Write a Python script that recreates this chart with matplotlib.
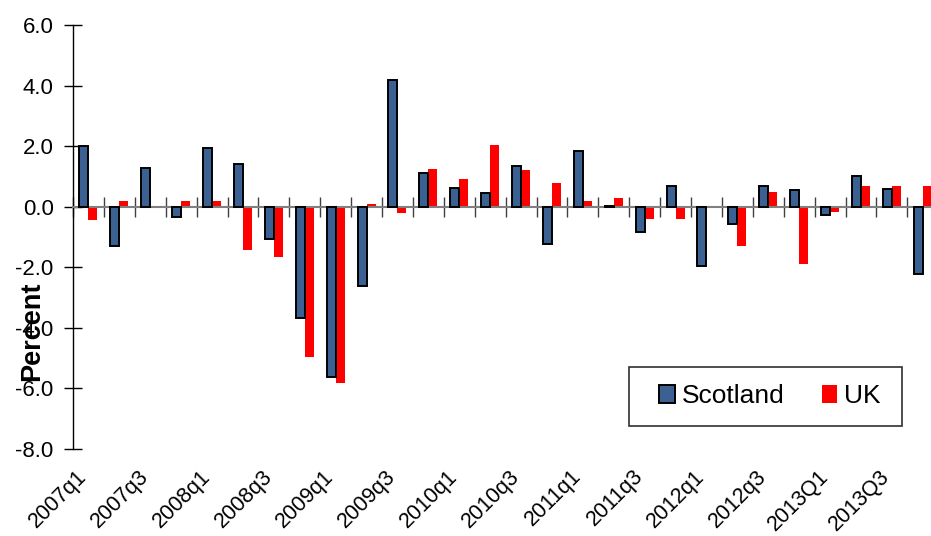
import matplotlib
matplotlib.use("Agg")
import matplotlib.pyplot as plt
import numpy as np
from matplotlib.transforms import blended_transform_factory
from matplotlib.patches import Rectangle

plt.rcParams['font.family'] = ['Liberation Sans', 'DejaVu Sans']

quarters = ["2007q1", "2007q2", "2007q3", "2007q4",
            "2008q1", "2008q2", "2008q3", "2008q4",
            "2009q1", "2009q2", "2009q3", "2009q4",
            "2010q1", "2010q2", "2010q3", "2010q4",
            "2011q1", "2011q2", "2011q3", "2011q4",
            "2012q1", "2012q2", "2012q3", "2012q4",
            "2013Q1", "2013Q2", "2013Q3", "2013Q4"]
scotland = [2.02, -1.29, 1.29, -0.33, 1.93, 1.41, -1.07, -3.69,
            -5.61, -2.61, 4.20, 1.12, 0.61, 0.46, 1.34, -1.23,
            1.85, 0.03, -0.85, 0.69, -1.95, -0.57, 0.69, 0.55,
            -0.28, 1.01, 0.57, -2.21]
uk = [-0.44, 0.18, 0.00, 0.18, 0.18, -1.43, -1.65, -4.95,
      -5.81, 0.10, -0.20, 1.24, 0.91, 2.04, 1.20, 0.78,
      0.19, 0.29, -0.40, -0.40, -0.05, -1.29, 0.50, -1.89,
      -0.19, 0.70, 0.69, 0.69]
yticks = [-8.0, -6.0, -4.0, -2.0, 0.0, 2.0, 4.0, 6.0]

W, H = 931, 536
fig = plt.figure(figsize=(W / 100, H / 100), dpi=100)
x0, x1 = 73, 938.2
y_top, y_bot = 25, 449
ax = fig.add_axes([x0 / W, 1 - y_bot / H, (x1 - x0) / W, (y_bot - y_top) / H])

n = len(quarters)
x = np.arange(n)
bw = 0.29
ax.bar(x - bw / 2, scotland, bw, color='#3A6192', edgecolor='black',
       linewidth=1.4, label='Scotland', zorder=3)
ax.bar(x + bw / 2, uk, bw, color='#FF0000', linewidth=0, label='UK', zorder=2)

ax.set_xlim(-0.5, n - 0.5)
ax.set_ylim(-8, 6)
ax.set_yticks(yticks)
ax.set_yticklabels([f"{v:.1f}" for v in yticks], fontsize=16)
ax.tick_params(axis='y', direction='inout', length=13, width=1, pad=7.5,
               color='black')

for s in ['top', 'right']:
    ax.spines[s].set_visible(False)
ax.spines['left'].set_linewidth(1)
ax.spines['bottom'].set_position(('data', 0))
ax.spines['bottom'].set_color('#808080')
ax.spines['bottom'].set_linewidth(1.5)
ax.set_xticks(np.arange(n + 1) - 0.5)
ax.set_xticklabels([])
ax.tick_params(axis='x', direction='inout', length=14, width=1,
               color='#404040')

trans = blended_transform_factory(ax.transData, ax.transAxes)
for i, q in enumerate(quarters):
    if i % 2 == 0:
        ax.text(i + 0.08, -0.04, q, rotation=45, ha='right', va='top',
                fontsize=15.5, transform=trans)

fig.text(32 / W, 1 - 331 / H, 'Percent', rotation=90, ha='center',
         va='center', fontsize=19.5, fontweight='bold')

# legend frame (drawn in figure pixels) and legend content
fig.patches.append(Rectangle((629 / W, 1 - 426 / H), (902 - 629) / W, (426 - 367) / H,
                             transform=fig.transFigure, fill=False,
                             edgecolor='#303030', linewidth=1.2, zorder=5))
leg = ax.legend(loc='center', bbox_to_anchor=(770 / W, 1 - 396 / H),
                bbox_transform=fig.transFigure, ncol=2, fontsize=19,
                frameon=False,
                handlelength=0.6, handleheight=0.65, handletextpad=0.25,
                columnspacing=1.4, borderpad=0, borderaxespad=0)

fig.savefig('out.png', dpi=100)
